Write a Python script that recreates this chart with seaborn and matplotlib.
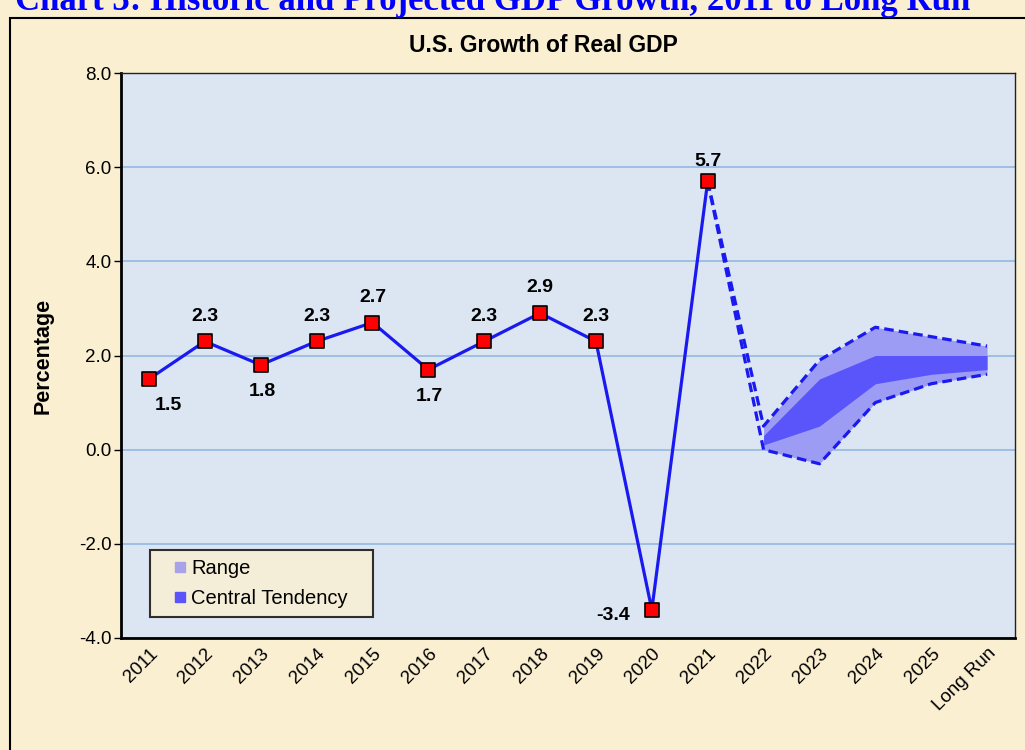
import numpy as np
import pandas as pd
import matplotlib
matplotlib.use("Agg")
import matplotlib.pyplot as plt
from matplotlib.patches import Rectangle
from matplotlib.lines import Line2D
import seaborn as sns

categories = ["2011", "2012", "2013", "2014", "2015", "2016", "2017", "2018",
              "2019", "2020", "2021", "2022", "2023", "2024", "2025", "Long Run"]
hist_years = ["2011", "2012", "2013", "2014", "2015", "2016", "2017", "2018", "2019", "2020", "2021"]
hist_values = [1.5, 2.3, 1.8, 2.3, 2.7, 1.7, 2.3, 2.9, 2.3, -3.4, 5.7]
label_pos = ["below-right", "above", "below", "above", "above", "below", "above", "above", "above", "left", "above"]
proj_years = ["2022", "2023", "2024", "2025", "Long Run"]
range_low = [0.0, -0.3, 1.0, 1.4, 1.6]
range_high = [0.5, 1.9, 2.6, 2.4, 2.2]
ct_low = [0.1, 0.5, 1.4, 1.6, 1.7]
ct_high = [0.3, 1.5, 2.0, 2.0, 2.0]
yticks = [-4.0, -2.0, 0.0, 2.0, 4.0, 6.0, 8.0]

sns.set_theme(style="white")
plt.rcParams["font.family"] = ["Liberation Sans", "DejaVu Sans"]
for k in ["text.color", "axes.labelcolor", "xtick.color", "ytick.color"]:
    plt.rcParams[k] = "black"

fig = plt.figure(figsize=(10.25, 7.5), dpi=100)
fig.patch.set_facecolor("#FBEFD2")
ax = fig.add_axes([121/1025, 112/750, (1015-121)/1025, (638-73)/750])
ax.set_facecolor("#DCE6F2")

xpos = {c: i for i, c in enumerate(categories)}
hist_df = pd.DataFrame({"x": [xpos[y] for y in hist_years], "value": hist_values})
proj_x = np.array([xpos[y] for y in proj_years])

for t in yticks:
    ax.axhline(t, color="#8DB4E2", lw=1.1, zorder=1)

ax.fill_between(proj_x, range_low, range_high, color="#9C9CF4", lw=0, zorder=2)
ax.fill_between(proj_x, ct_low, ct_high, color="#5A55FA", lw=0, zorder=3)

last_x, last_v = xpos["2021"], hist_values[-1]
ax.plot([last_x] + list(proj_x), [last_v] + range_high, color="#1A1AF0", lw=2.3,
        ls=(0, (3, 1.6)), zorder=4)
ax.plot([last_x] + list(proj_x), [last_v] + range_low, color="#1A1AF0", lw=2.3,
        ls=(0, (3, 1.6)), zorder=4)

sns.lineplot(data=hist_df, x="x", y="value", ax=ax, color="#1A1AF0", lw=2.3, zorder=5)
sns.scatterplot(data=hist_df, x="x", y="value", ax=ax, marker="s", s=115,
                color="#FF0000", edgecolor="black", linewidth=1.2, zorder=6)

offsets = {"above": (0, 12, "bottom"), "below": (1, -13, "top"),
           "below-right": (14, -13, "top"), "left": (-28, -4, "center")}
for x, v, p in zip(hist_df["x"], hist_values, label_pos):
    dx, dy, va = offsets[p]
    if x == xpos["2021"]:
        dy = 8
    ax.annotate(f"{v:.1f}", (x, v), xytext=(dx, dy), textcoords="offset points",
                ha="center", va=va, fontsize=14, fontweight="bold")

ax.set_xlim(-0.5, len(categories) - 0.5)
ax.set_ylim(-4, 8)
ax.set_yticks(yticks)
ax.set_yticklabels([f"{t:.1f}" for t in yticks], fontsize=13.5)
ax.set_xticks(range(len(categories)))
ax.set_xticklabels(categories, rotation=45, ha="right", rotation_mode="anchor", fontsize=13.5)
ax.tick_params(axis="x", length=0, pad=5)
ax.tick_params(axis="y", length=5, width=1, color="black", left=True, direction="out", pad=2)
ax.set_xlabel("")
ax.set_ylabel("Percentage", fontsize=15.5, fontweight="bold", labelpad=18)
for s in ["left", "bottom"]:
    ax.spines[s].set_color("black")
    ax.spines[s].set_linewidth(2.0)
for s in ["top", "right"]:
    ax.spines[s].set_color("#222222")
    ax.spines[s].set_linewidth(1.0)

fig.text(543/1025, 1 - 45/750, "U.S. Growth of Real GDP", fontsize=16.5, fontweight="bold",
         ha="center", va="center")

handles = [Line2D([], [], ls="", marker="s", markersize=7.5, color="#A8A2E8", label="Range"),
           Line2D([], [], ls="", marker="s", markersize=7.5, color="#5A55FA",
                  label="Central Tendency   ")]
leg = ax.legend(handles=handles, loc="lower left", bbox_to_anchor=(0.032, 0.037),
                fontsize=14.5, frameon=True, fancybox=False, handlelength=2.1,
                handletextpad=-0.5, borderpad=0.45, labelspacing=0.55,
                borderaxespad=0.0)
leg.get_frame().set_edgecolor("black")
leg.get_frame().set_linewidth(1.5)
leg.get_frame().set_facecolor("#FBEFD2")

fig.patches.append(Rectangle((10/1025, -0.05), 1.1, 1 - 18/750 + 0.05,
                             transform=fig.transFigure, fill=False,
                             edgecolor="black", lw=1.5))
fig.text(15/1025, 1.0 - 10/750, "Chart 3: Historic and Projected GDP Growth, 2011 to Long Run",
         color="#0000FF", fontsize=25, fontweight="bold", family=["Liberation Serif", "DejaVu Serif"],
         ha="left", va="baseline")

fig.savefig("out.png", dpi=100, facecolor=fig.get_facecolor())
